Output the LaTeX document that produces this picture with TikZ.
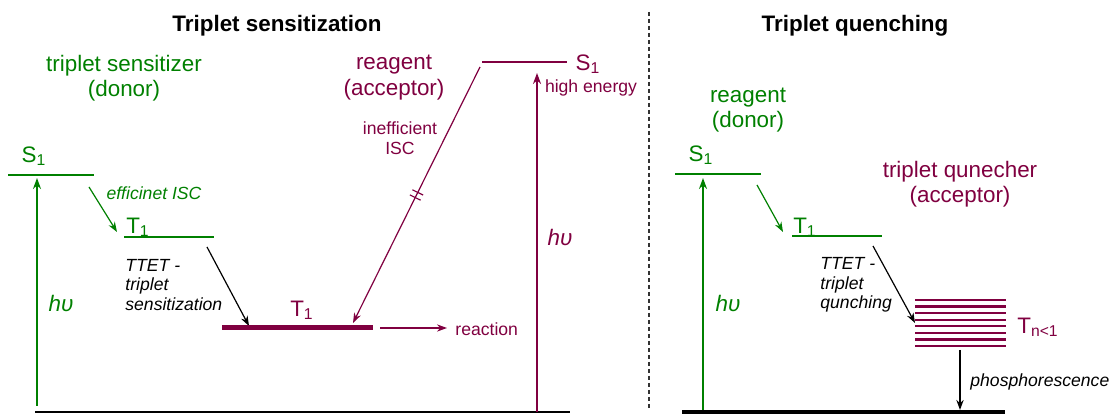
\documentclass[tikz,border=0pt]{standalone}
\usepackage{fontspec}
\setmainfont{Liberation Sans}
\usetikzlibrary{arrows.meta,positioning,calc}
\definecolor{donorgreen}{RGB}{0,128,0}
\definecolor{accmagenta}{RGB}{128,0,64}

\begin{document}
\begin{tikzpicture}[
        x=0.5pt, y=-0.5pt,
        font=\fontsize{11.2}{12.6}\selectfont,
        title/.style={font=\bfseries\fontsize{11.2}{12.6}\selectfont},
        small/.style={font=\fontsize{8.8}{9.8}\selectfont},
        smallit/.style={font=\itshape\fontsize{8.8}{9.8}\selectfont},
        lbl/.style={inner sep=0pt, align=center},
        lvl/.style={line width=1pt},
        a/.style={-{Stealth[length=5pt,width=3.6pt]}, line width=0.6pt},
        up/.style={-{Stealth[length=5.5pt,width=4pt]}, line width=1pt}
    ]
        \useasboundingbox (0,0) rectangle (1113,415);

        \node[title] (tsens) at (277,26) {Triplet sensitization};
        \node[title] (tquen) at (855,26) {Triplet quenching};
        \draw[gray!40!black, line width=0.6pt, dash pattern=on 2pt off 1.5pt] (649,12) -- (649,410);

        % sensitization
        \draw[line width=1.4pt] (35,412) -- (570,412);
        \node[lbl, donorgreen] (sdonor) at (124,78.5) {triplet sensitizer\\(donor)};
        \draw[lvl, donorgreen] (8,175) -- (94,175);
        \node[lbl, donorgreen] (sS1) at (34,156) {S\textsubscript{1}};
        \draw[lvl, donorgreen] (124,237) -- (214,237);
        \node[lbl, donorgreen] (sT1) at (138,227) {T\textsubscript{1}};
        \coordinate (sexcA) at (37,406);
        \coordinate (sexcB) at (37,178);
        \draw[up, donorgreen] (sexcA) -- (sexcB);
        \node[lbl, donorgreen] (shv) at (61,303) {\textit{hυ}};
        \coordinate (siscA) at (89,187);
        \coordinate (siscB) at (117,232);
        \draw[a, donorgreen] (siscA) -- (siscB);
        \node[lbl, smallit, donorgreen] (siscl) at (154,193) {efficinet ISC};
        \node[lbl, smallit, anchor=west, align=left] (sttet) at (125,285) {TTET -\\triplet\\sensitization};
        \coordinate (sttA) at (207,247);
        \coordinate (sttB) at (249,326);
        \draw[a] (sttA) -- (sttB);

        \node[lbl, accmagenta] (sacc) at (394,77.5) {reagent\\(acceptor)};
        \draw[line width=2.5pt, accmagenta] (222,328) -- (373,328);
        \node[lbl, accmagenta] (aT1) at (302,310) {T\textsubscript{1}};
        \draw[lvl, accmagenta] (482,62) -- (567,62);
        \node[lbl, accmagenta] (aS1) at (588,64) {S\textsubscript{1}};
        \node[lbl, small, accmagenta] (ahigh) at (591,88) {high energy};
        \coordinate (aexcA) at (537,412);
        \coordinate (aexcB) at (537,73);
        \draw[up, accmagenta] (aexcA) -- (aexcB);
        \node[lbl, accmagenta] (ahv) at (560,238) {\textit{hυ}};
        \coordinate (aiscA) at (480,67);
        \coordinate (aiscB) at (353,323);
        \draw[a, accmagenta] (aiscA) -- (aiscB);
        \coordinate (am1) at ($(aiscA)!0.49!(aiscB)$);
        \coordinate (am2) at ($(aiscA)!0.51!(aiscB)$);
        \draw[accmagenta, line width=0.6pt] ($(am1)!3pt!90:(aiscB)$) -- ($(am1)!3pt!-90:(aiscB)$);
        \draw[accmagenta, line width=0.6pt] ($(am2)!3pt!90:(aiscB)$) -- ($(am2)!3pt!-90:(aiscB)$);
        \node[lbl, small, accmagenta] (aiscl) at (400,138) {inefficient\\ISC};
        \coordinate (areA) at (380,328);
        \coordinate (areB) at (447,328);
        \draw[a, accmagenta] (areA) -- (areB);
        \node[lbl, small, accmagenta, anchor=west] (areact) at (455,329) {reaction};

        % quenching
        \draw[line width=2.2pt] (682,412) -- (1005,412);
        \node[lbl, donorgreen] (qdonor) at (748,110) {reagent\\(donor)};
        \draw[lvl, donorgreen] (675,174) -- (761,174);
        \node[lbl, donorgreen] (qS1) at (701,155) {S\textsubscript{1}};
        \draw[lvl, donorgreen] (792,236) -- (882,236);
        \node[lbl, donorgreen] (qT1) at (805,227) {T\textsubscript{1}};
        \coordinate (qexcA) at (703,410);
        \coordinate (qexcB) at (703,178);
        \draw[up, donorgreen] (qexcA) -- (qexcB);
        \node[lbl, donorgreen] (qhv) at (728,303) {\textit{hυ}};
        \coordinate (qiscA) at (757,185);
        \coordinate (qiscB) at (783,232);
        \draw[a, donorgreen] (qiscA) -- (qiscB);
        \node[lbl, smallit, anchor=west, align=left] (qttet) at (820,285) {TTET -\\triplet\\qunching};
        \coordinate (qttA) at (873,246);
        \coordinate (qttB) at (915,323);
        \draw[a] (qttA) -- (qttB);

        \node[lbl, accmagenta] (qacc) at (960,184.5) {triplet qunecher\\(acceptor)};
        \foreach \k in {0,...,7}
            \draw[line width=1.2pt, accmagenta] (915,300+6.57*\k) -- (1006,300+6.57*\k);
        \node[lbl, accmagenta] (qTn) at (1038,327) {T\textsubscript{n<1}};
        \coordinate (qphA) at (960,350);
        \coordinate (qphB) at (960,410);
        \draw[a, line width=0.9pt] (qphA) -- (qphB);
        \node[lbl, smallit, anchor=west] (qphos) at (970,382) {phosphorescence};
    \end{tikzpicture}
\end{document}
